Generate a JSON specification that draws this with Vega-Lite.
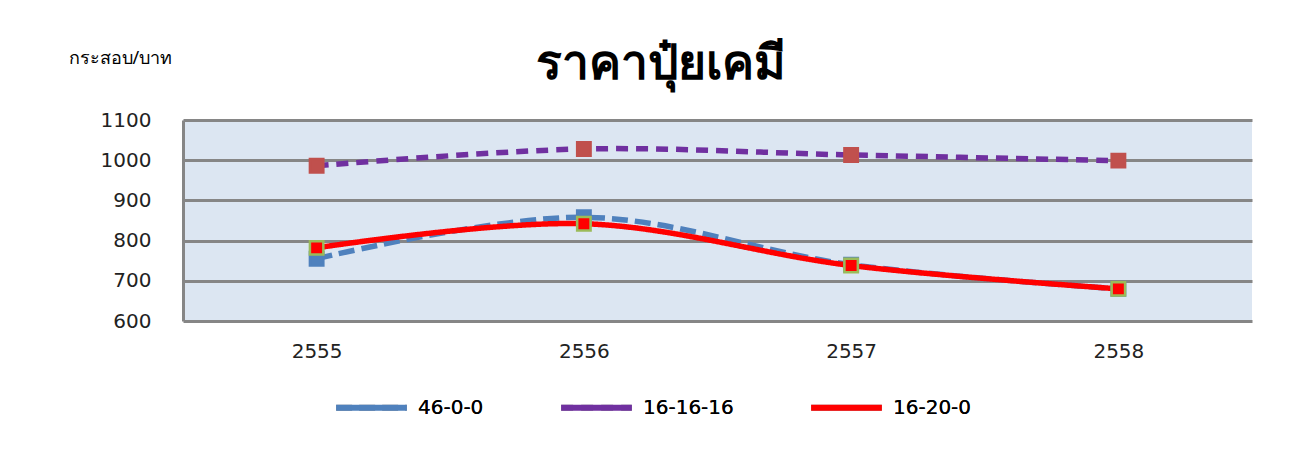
{
  "$schema": "https://vega.github.io/schema/vega-lite/v6.json",
  "width": 1069,
  "height": 201,
  "autosize": "none",
  "padding": {"left": 183, "top": 120, "right": 50, "bottom": 143},
  "background": "white",
  "config": {"view": {"stroke": null, "fill": "#DCE6F2"}, "font": "DejaVu Sans"},
  "title": {"text": "ราคาปุ๋ยเคมี", "anchor": "middle", "frame": "group", "dx": -57, "offset": 0, "dy": 40, "fontSize": 48, "fontWeight": "bold", "font": "Noto Sans", "color": "black"},
  "data": {"values": [
    {"year": "2555", "series": "46-0-0", "value": 755},
    {"year": "2556", "series": "46-0-0", "value": 858},
    {"year": "2557", "series": "46-0-0", "value": 740},
    {"year": "2558", "series": "46-0-0", "value": 680},
    {"year": "2555", "series": "16-16-16", "value": 986},
    {"year": "2556", "series": "16-16-16", "value": 1028},
    {"year": "2557", "series": "16-16-16", "value": 1013},
    {"year": "2558", "series": "16-16-16", "value": 999},
    {"year": "2555", "series": "16-20-0", "value": 782},
    {"year": "2556", "series": "16-20-0", "value": 842},
    {"year": "2557", "series": "16-20-0", "value": 738},
    {"year": "2558", "series": "16-20-0", "value": 680}
  ]},
  "encoding": {
    "x": {"field": "year", "type": "ordinal", "scale": {"type": "point", "padding": 0.5},
      "axis": {"title": null, "labelAngle": 0, "ticks": false, "domain": false, "labelFontSize": 20, "labelColor": "#222", "labelPadding": 20}},
    "y": {"field": "value", "type": "quantitative", "scale": {"domain": [600, 1100], "nice": false, "zero": false},
      "axis": {"values": [600, 700, 800, 900, 1000, 1100], "format": "d", "title": "กระสอบ/บาท", "titleAngle": 0, "titleX": -115, "titleY": -62, "titleAlign": "left", "titleBaseline": "middle", "titleFontSize": 18, "titleFontWeight": "normal", "titleFont": "Noto Sans", "titleColor": "black",
        "labelFontSize": 20, "labelColor": "#222", "labelPadding": 32, "ticks": false, "domainColor": "#868686", "domainWidth": 3, "gridColor": "#868686", "gridWidth": 3, "gridOpacity": 1}}
  },
  "layer": [
    {
      "mark": {"type": "line", "interpolate": "catmull-rom", "strokeWidth": 5.5},
      "encoding": {
        "stroke": {"field": "series", "type": "nominal", "scale": {"domain": ["46-0-0", "16-16-16", "16-20-0"], "range": ["#4F81BD", "#7030A0", "#FF0000"]},
          "legend": {"title": null, "orient": "none", "legendX": 150, "legendY": 249, "direction": "horizontal", "labelFontSize": 20, "labelFontWeight": "normal", "labelColor": "black", "symbolType": "stroke", "symbolSize": 5000, "symbolStrokeWidth": 6, "columnPadding": 65, "labelOffset": 8}},
        "strokeDash": {"field": "series", "type": "nominal", "scale": {"domain": ["46-0-0", "16-16-16", "16-20-0"], "range": [[16, 7], [12, 8], [1, 0]]},
          "legend": {"title": null, "orient": "none", "legendX": 150, "legendY": 249, "direction": "horizontal", "labelFontSize": 20, "labelFontWeight": "normal", "labelColor": "black", "symbolType": "stroke", "symbolSize": 5000, "symbolStrokeWidth": 6, "columnPadding": 65, "labelOffset": 8}},
        "order": {"field": "series", "sort": "descending"}
      }
    },
    {
      "mark": {"type": "point", "shape": "square", "filled": true, "size": 180, "strokeWidth": 2.5, "opacity": 1},
      "encoding": {
        "fill": {"field": "series", "type": "nominal", "scale": {"domain": ["46-0-0", "16-16-16", "16-20-0"], "range": ["#4F81BD", "#C0504D", "#FF0000"]}, "legend": null},
        "stroke": {"field": "series", "type": "nominal", "scale": {"domain": ["46-0-0", "16-16-16", "16-20-0"], "range": ["#4F81BD", "#C0504D", "#9BBB59"]}, "legend": null}
      }
    }
  ],
  "resolve": {"scale": {"stroke": "independent", "fill": "independent"}}
}
